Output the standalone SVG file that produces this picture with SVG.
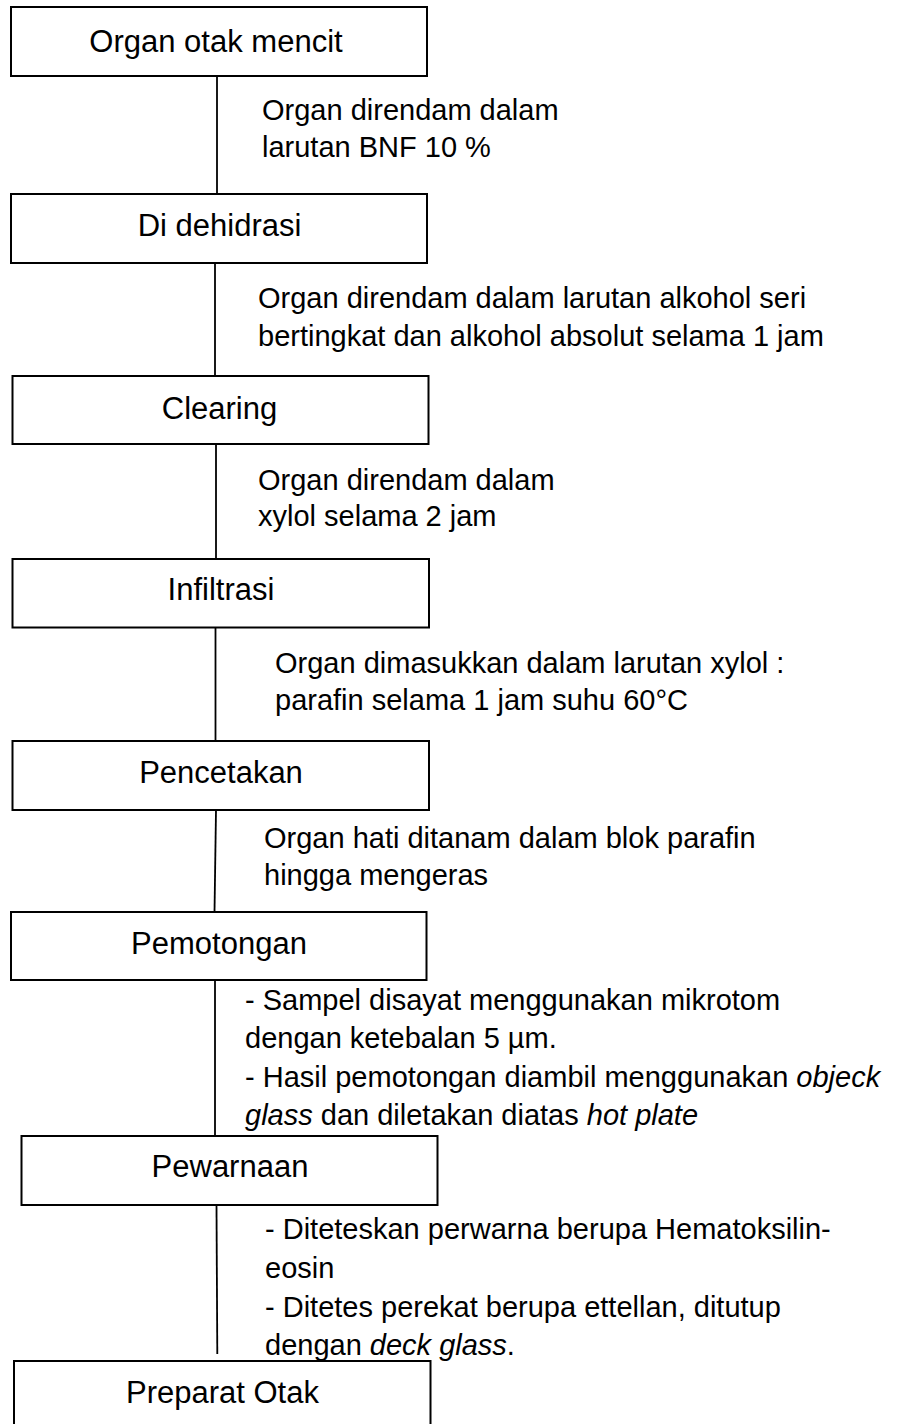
<svg xmlns="http://www.w3.org/2000/svg" width="905" height="1424" viewBox="0 0 905 1424">
<style>
.box{fill:#fff;stroke:#000;stroke-width:2}
.conn{stroke:#000;stroke-width:1.8;fill:none}
.bt{font-family:"Liberation Sans",Arial,sans-serif;font-size:31px;fill:#000;text-anchor:middle}
.lt{font-family:"Liberation Sans",Arial,sans-serif;font-size:29px;fill:#000}
.i{font-style:italic}
</style>
<rect width="905" height="1424" fill="#fff"/>
<g id="connectors">
<line class="conn" x1="217" y1="76" x2="217" y2="194"/>
<line class="conn" x1="215" y1="263" x2="215" y2="376"/>
<line class="conn" x1="216" y1="444" x2="216" y2="559"/>
<line class="conn" x1="215.5" y1="627.5" x2="215.5" y2="741"/>
<line class="conn" x1="216" y1="810" x2="214.5" y2="912"/>
<line class="conn" x1="215" y1="980" x2="215" y2="1136"/>
<line class="conn" x1="216.5" y1="1206" x2="217.3" y2="1354"/>
</g>
<g id="n1"><rect class="box" x="11" y="7" width="416" height="69"/><text class="bt" x="216" y="52">Organ otak mencit</text></g>
<g id="n2"><rect class="box" x="11" y="194" width="416" height="69"/><text class="bt" x="219.5" y="236">Di dehidrasi</text></g>
<g id="n3"><rect class="box" x="12.5" y="376" width="416" height="68"/><text class="bt" x="219.5" y="419">Clearing</text></g>
<g id="n4"><rect class="box" x="12.5" y="559" width="416.5" height="68.5"/><text class="bt" x="221" y="600">Infiltrasi</text></g>
<g id="n5"><rect class="box" x="12.5" y="741" width="416.5" height="69"/><text class="bt" x="221" y="783">Pencetakan</text></g>
<g id="n6"><rect class="box" x="11" y="912" width="415.5" height="68"/><text class="bt" x="219" y="954">Pemotongan</text></g>
<g id="n7"><rect class="box" x="21.5" y="1136" width="416" height="69"/><text class="bt" x="230" y="1176.5">Pewarnaan</text></g>
<g id="n8"><rect class="box" x="14" y="1361" width="416.5" height="80"/><text class="bt" x="222.5" y="1403">Preparat Otak</text></g>
<g id="labels">
<text class="lt" x="262" y="119.5">Organ direndam dalam</text>
<text class="lt" x="262" y="157">larutan BNF 10 %</text>
<text class="lt" x="258" y="308">Organ direndam dalam larutan alkohol seri</text>
<text class="lt" x="258" y="346">bertingkat dan alkohol absolut selama 1 jam</text>
<text class="lt" x="258" y="490">Organ direndam dalam</text>
<text class="lt" x="258" y="526">xylol selama 2 jam</text>
<text class="lt" x="275" y="673">Organ dimasukkan dalam larutan xylol :</text>
<text class="lt" x="275" y="710">parafin selama 1 jam suhu 60°C</text>
<text class="lt" x="264" y="848">Organ hati ditanam dalam blok parafin</text>
<text class="lt" x="264" y="885">hingga mengeras</text>
<text class="lt" x="245" y="1010">- Sampel disayat menggunakan mikrotom</text>
<text class="lt" x="245" y="1048">dengan ketebalan 5 µm.</text>
<text class="lt" x="245" y="1087">- Hasil pemotongan diambil menggunakan <tspan class="i">objeck</tspan></text>
<text class="lt" x="245" y="1125"><tspan class="i">glass</tspan> dan diletakan diatas <tspan class="i">hot plate</tspan></text>
<text class="lt" x="265" y="1239">- Diteteskan perwarna berupa Hematoksilin-</text>
<text class="lt" x="265" y="1278">eosin</text>
<text class="lt" x="265" y="1317">- Ditetes perekat berupa ettellan, ditutup</text>
<text class="lt" x="265" y="1355">dengan <tspan class="i">deck glass</tspan>.</text>
</g>
</svg>
